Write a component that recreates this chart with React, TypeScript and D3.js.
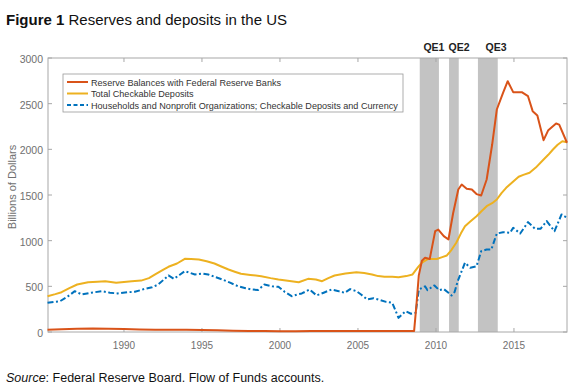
import { scaleLinear, line } from "d3";

// ---- data ----
const reserveYears = [
  1985.1, 1986, 1987, 1988, 1989, 1990, 1991, 1992, 1993, 1994, 1995, 1996, 1997, 1998, 1999,
  2000, 2001, 2002, 2003, 2004, 2005, 2006, 2007, 2008, 2008.6, 2008.75, 2008.9, 2009.1, 2009.3,
  2009.6, 2009.95, 2010.15, 2010.5, 2010.8, 2011.1, 2011.43, 2011.65, 2011.97, 2012.3, 2012.6,
  2012.9, 2013.25, 2013.6, 2013.9, 2014.3, 2014.6, 2014.95, 2015.5, 2015.9, 2016.2, 2016.5,
  2016.9, 2017.2, 2017.7, 2017.9, 2018.4,
];
const reserveValues = [
  25, 30, 35, 38, 35, 33, 28, 25, 24, 25, 22, 18, 14, 10, 10,
  8, 9, 10, 11, 12, 12, 11, 10, 10, 12, 300, 620, 780, 812,
  800, 1104, 1122, 1050, 1013, 1300, 1560, 1615, 1568, 1560, 1510,
  1495, 1670, 2050, 2436, 2619, 2746, 2626, 2626, 2582, 2418, 2371,
  2100, 2210, 2283, 2270, 2072,
];

const depositYears = [
  1985.1, 1985.6, 1986, 1986.5, 1987, 1987.7, 1988.3, 1988.8, 1989.5, 1990, 1990.5, 1991.1,
  1991.6, 1992, 1992.5, 1992.85, 1993.4, 1993.9, 1994.3, 1994.8, 1995.3, 1995.8, 1996.2, 1996.7,
  1997.1, 1997.5, 1998.1, 1998.8, 1999.4, 1999.9, 2000.5, 2001.2, 2001.8, 2002.3, 2002.7, 2003.1,
  2003.5, 2004.2, 2004.9, 2005.4, 2005.9, 2006.3, 2006.7, 2007.2, 2007.6, 2008.1, 2008.5, 2008.85,
  2009.1, 2009.5, 2010.05, 2010.4, 2010.7, 2011, 2011.3, 2011.6, 2011.86, 2012.2, 2012.6, 2012.9,
  2013.25, 2013.6, 2013.9, 2014.2, 2014.5, 2014.9, 2015.3, 2015.6, 2016, 2016.4, 2016.9, 2017.2,
  2017.5, 2017.8, 2018.1, 2018.4,
];
const depositValues = [
  392, 415, 436, 480, 520, 545, 550, 556, 538, 548, 556, 563,
  590, 630, 680, 714, 750, 801, 798, 794, 775, 750, 720, 684,
  660, 637, 625, 611, 590, 575, 560, 545, 582, 575, 556, 590,
  619, 640, 655, 645, 630, 612, 604, 605, 600, 612, 630, 710,
  760, 800, 800, 820, 838, 900, 977, 1080, 1159, 1210, 1268, 1320,
  1377, 1410, 1451, 1520, 1579, 1640, 1700, 1720, 1743, 1800, 1889, 1940,
  1998, 2050, 2089, 2078,
];

const householdYears = [
  1985.1, 1985.5, 1985.9, 1986.4, 1986.85, 1987.3, 1987.9, 1988.6, 1989.1, 1989.6, 1990.2, 1990.7,
  1991.35, 1991.8, 1992.2, 1992.85, 1993.2, 1993.6, 1993.9, 1994.55, 1995, 1995.4, 1995.9, 1996.3,
  1996.8, 1997.3, 1997.8, 1998.2, 1998.6, 1999, 1999.5, 1999.9, 2000.3, 2000.75, 2001.1, 2001.4,
  2001.9, 2002.35, 2002.8, 2003.3, 2003.7, 2004.15, 2004.5, 2004.9, 2005.2, 2005.6, 2006, 2006.3,
  2006.8, 2007.2, 2007.6, 2008.05, 2008.4, 2008.7, 2008.9, 2009.3, 2009.45, 2009.9, 2010.2, 2010.5,
  2010.8, 2011, 2011.2, 2011.4, 2011.86, 2012.2, 2012.6, 2012.9, 2013.25, 2013.55, 2013.9, 2014.3,
  2014.75, 2014.95, 2015.4, 2015.9, 2016.35, 2016.7, 2017.1, 2017.6, 2018.05, 2018.4,
];
const householdValues = [
  320, 330, 337, 390, 447, 411, 430, 447, 430, 422, 435, 440,
  473, 490, 520, 619, 582, 630, 666, 630, 640, 630, 600, 575,
  540, 502, 480, 465, 460, 520, 500, 495, 440, 392, 410, 422,
  465, 400, 430, 465, 450, 429, 470, 447, 410, 356, 370, 356,
  330, 320, 155, 228, 200, 210, 465, 500, 459, 510, 459, 470,
  430, 400, 440, 560, 758, 703, 720, 885, 903, 903, 1078, 1093,
  1085, 1141, 1078, 1203, 1130, 1130, 1214, 1104, 1287, 1250,
];

// QE programme shading (start, end) and label positions
const qeStarts = [2008.96, 2010.84, 2012.69];
const qeEnds = [2010.19, 2011.46, 2013.96];
const qeLabels = ["QE1", "QE2", "QE3"];
const qeLabelYears = [2009.87, 2011.48, 2013.85];

const xTicks = [1990, 1995, 2000, 2005, 2010, 2015];
const yTicks = [0, 500, 1000, 1500, 2000, 2500, 3000];

const seriesNames = [
  "Reserve Balances with Federal Reserve Banks",
  "Total Checkable Deposits",
  "Households and Nonprofit Organizations; Checkable Deposits and Currency",
];
const seriesColors = ["#D95319", "#EDB120", "#0072BD"];

export default function App() {
  const W = 578;
  const H = 389;
  const left = 48;
  const right = 567;
  const top = 58;
  const bottom = 332;
  const font = "'Liberation Sans', Arial, Helvetica, sans-serif";

  const x = scaleLinear().domain([1985.13, 2018.4]).range([left, right]);
  const y = scaleLinear().domain([0, 3000]).range([bottom, top]);

  const mk = (years: number[], vals: number[]) =>
    line<number>()
      .x((_, i) => x(years[i]))
      .y((d) => y(d))(vals) ?? "";

  const paths = [
    mk(reserveYears, reserveValues),
    mk(depositYears, depositValues),
    mk(householdYears, householdValues),
  ];

  const axisColor = "#a8a8a8";
  const tickColor = "#707070";
  const tl = 4;

  return (
    <div style={{ position: "absolute", left: 0, top: 0 }}>
      <svg width={W} height={H} style={{ display: "block", fontFamily: font }}>
        <rect width={W} height={H} fill="#fff" />
        {/* title */}
        <text x={6} y={25} fontSize={15} fill="#111">
          <tspan fontWeight="bold">Figure 1</tspan>
          <tspan> Reserves and deposits in the US</tspan>
        </text>

        {/* QE bands */}
        {qeStarts.map((s, i) => (
          <rect
            key={i}
            x={x(s)}
            y={top}
            width={x(qeEnds[i]) - x(s)}
            height={bottom - top}
            fill="#c3c3c3"
          />
        ))}
        {qeLabels.map((t, i) => (
          <text
            key={t}
            x={x(qeLabelYears[i])}
            y={51}
            fontSize={10.5}
            fontWeight="bold"
            textAnchor="middle"
            fill="#222"
          >
            {t}
          </text>
        ))}

        {/* frame + ticks */}
        <rect
          x={left}
          y={top}
          width={right - left}
          height={bottom - top}
          fill="none"
          stroke={axisColor}
          strokeWidth={1}
        />
        {xTicks.map((t) => (
          <g key={t}>
            <line x1={x(t)} x2={x(t)} y1={bottom} y2={bottom - tl} stroke={axisColor} />
            <line x1={x(t)} x2={x(t)} y1={top} y2={top + tl} stroke={axisColor} />
            <text
              x={x(t)}
              y={bottom + 17}
              fontSize={10}
              textAnchor="middle"
              fill={tickColor}
            >
              {t}
            </text>
          </g>
        ))}
        {yTicks.map((t) => (
          <g key={t}>
            <line x1={left} x2={left + tl} y1={y(t)} y2={y(t)} stroke={axisColor} />
            <line x1={right} x2={right - tl} y1={y(t)} y2={y(t)} stroke={axisColor} />
            <text
              x={43}
              y={y(t) + 5}
              fontSize={10.5}
              textAnchor="end"
              fill={tickColor}
            >
              {t}
            </text>
          </g>
        ))}
        <text
          transform={`translate(16,${(top + bottom) / 2 - 8}) rotate(-90)`}
          fontSize={11}
          textAnchor="middle"
          fill={tickColor}
        >
          Billions of Dollars
        </text>

        {/* series */}
        <path d={paths[1]} fill="none" stroke={seriesColors[1]} strokeWidth={2} strokeLinejoin="round" />
        <path
          d={paths[2]}
          fill="none"
          stroke={seriesColors[2]}
          strokeWidth={2}
          strokeDasharray="6,2.5,2,2.5"
          strokeLinejoin="round"
        />
        <path d={paths[0]} fill="none" stroke={seriesColors[0]} strokeWidth={2} strokeLinejoin="round" />

        {/* legend */}
        <rect x={63} y={74} width={340} height={38} fill="#fff" stroke="#9a9a9a" strokeWidth={0.8} />
        {seriesNames.map((n, i) => {
          const ly = 82 + i * 11.5;
          return (
            <g key={n}>
              <line
                x1={67}
                x2={88}
                y1={ly}
                y2={ly}
                stroke={seriesColors[i]}
                strokeWidth={2}
                strokeDasharray={i === 2 ? "4,2.5" : undefined}
              />
              <text x={91} y={ly + 3.5} fontSize={9.1} fill="#333">
                {n}
              </text>
            </g>
          );
        })}

        {/* source */}
        <text x={6} y={382} fontSize={12.5} fill="#111">
          <tspan fontStyle="italic">Source</tspan>
          <tspan>: Federal Reserve Board. Flow of Funds accounts.</tspan>
        </text>
      </svg>
    </div>
  );
}
